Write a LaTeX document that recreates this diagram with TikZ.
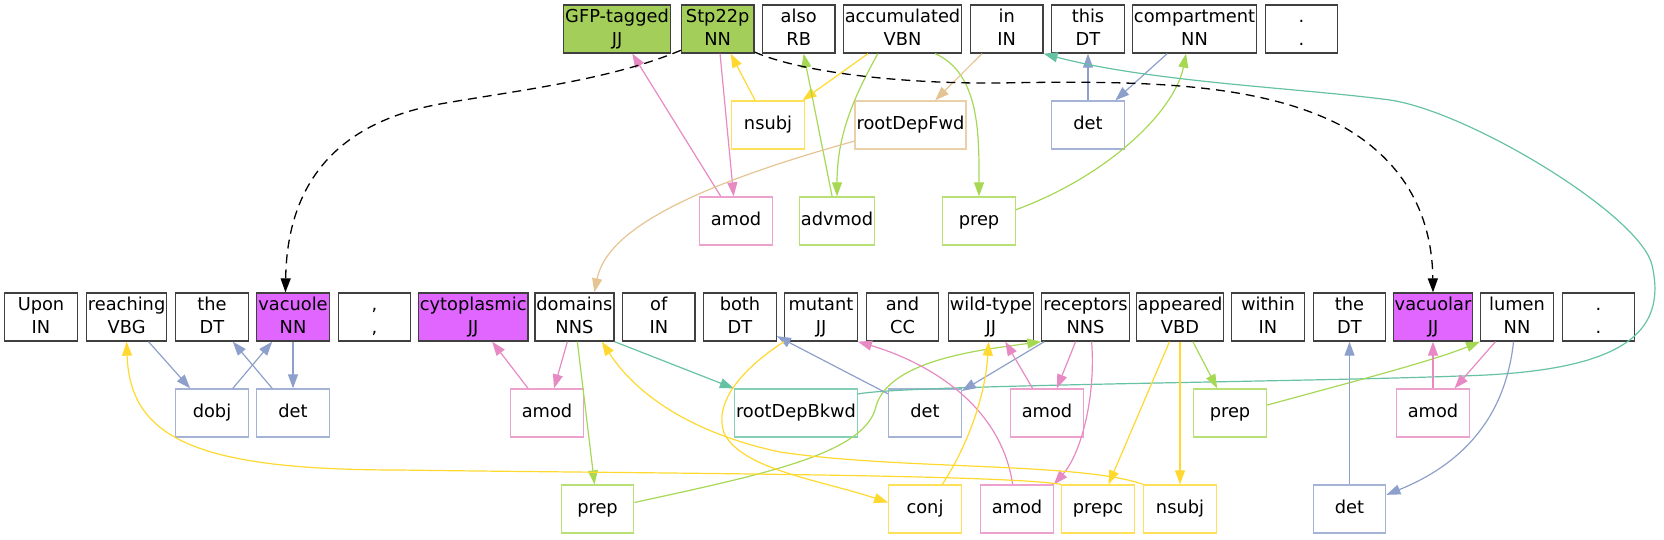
\documentclass[tikz,border=0pt]{standalone}
\usepackage{fontspec}
\setmainfont{DejaVu Sans}
\usetikzlibrary{arrows.meta}
\definecolor{cTeal}{HTML}{66C2A5}
\definecolor{cBlue}{HTML}{8DA0CB}
\definecolor{cPink}{HTML}{E78AC3}
\definecolor{cGreen}{HTML}{A6D854}
\definecolor{cYellow}{HTML}{FFD92F}
\definecolor{cTan}{HTML}{E5C494}
\definecolor{cMention}{RGB}{164,206,90}
\definecolor{cTrigger}{HTML}{E066FF}
\newcommand\tw[2]{\strut#1\\\strut#2}

\begin{document}
\begin{tikzpicture}[x=1pt,y=-1pt,
  tok/.style={draw=black!75, line width=1.3pt, minimum width=72.5pt, minimum height=48pt,
              inner xsep=1.5pt, inner ysep=0pt, align=center, font=\fontsize{17.8}{23.3}\selectfont},
  lab/.style={draw=#1!80!white, line width=1.3pt, minimum width=72.5pt, minimum height=48pt,
              inner xsep=1.5pt, font=\fontsize{17.8}{23.3}\selectfont},
  dep/.style={draw=#1, line width=1.2pt, -{Triangle[length=14pt,width=10pt]}},
  coref/.style={line width=1.3pt, dash pattern=on 9pt off 6pt, -{Triangle[length=14pt,width=10pt]}}]
\useasboundingbox (0,0) rectangle (1664,539);
% first sentence
\node[tok,fill=cMention] (A1) at (617,29)    {\tw{GFP-tagged}{JJ}};
\node[tok,fill=cMention] (A2) at (717.7,29)  {\tw{Stp22p}{NN}};
\node[tok] (A3) at (798.7,29)  {\tw{also}{RB}};
\node[tok] (A4) at (902.5,29)  {\tw{accumulated}{VBN}};
\node[tok] (A5) at (1006.7,29) {\tw{in}{IN}};
\node[tok] (A6) at (1088,29)   {\tw{this}{DT}};
\node[tok] (A7) at (1194.5,29) {\tw{compartment}{NN}};
\node[tok] (A8) at (1301.5,29) {\tw{.}{.}};
\node[lab=cYellow] (B1) at (768,125)   {\strut nsubj};
\node[lab=cTan]    (B2) at (910.5,125) {\strut rootDepFwd};
\node[lab=cBlue]   (B3) at (1088,125)  {\strut det};
\node[lab=cPink]   (B4) at (736,221)   {\strut amod};
\node[lab=cGreen]  (B5) at (837,221)   {\strut advmod};
\node[lab=cGreen]  (B6) at (979,221)   {\strut prep};
% second sentence
\node[tok] (C1) at (41,317)    {\tw{Upon}{IN}};
\node[tok] (C2) at (126.6,317) {\tw{reaching}{VBG}};
\node[tok] (C3) at (212,317)   {\tw{the}{DT}};
\node[tok,fill=cTrigger] (C4) at (293,317) {\tw{vacuole}{NN}};
\node[tok] (C5) at (374.4,317) {\tw{,}{,}};
\node[tok,fill=cTrigger] (C6) at (473.2,317) {\tw{cytoplasmic}{JJ}};
\node[tok] (C7) at (574.4,317) {\tw{domains}{NNS}};
\node[tok] (C8) at (658.8,317) {\tw{of}{IN}};
\node[tok] (C9) at (740,317)   {\tw{both}{DT}};
\node[tok] (C10) at (821,317)  {\tw{mutant}{JJ}};
\node[tok] (C11) at (902.5,317) {\tw{and}{CC}};
\node[tok] (C12) at (990.8,317) {\tw{wild-type}{JJ}};
\node[tok] (C13) at (1085.5,317) {\tw{receptors}{NNS}};
\node[tok] (C14) at (1180,317) {\tw{appeared}{VBD}};
\node[tok] (C15) at (1268,317) {\tw{within}{IN}};
\node[tok] (C16) at (1349.5,317) {\tw{the}{DT}};
\node[tok,fill=cTrigger] (C17) at (1433,317) {\tw{vacuolar}{JJ}};
\node[tok] (C18) at (1517,317) {\tw{lumen}{NN}};
\node[tok] (C19) at (1598.5,317) {\tw{.}{.}};
\node[lab=cBlue]   (D1) at (212,413)   {\strut dobj};
\node[lab=cBlue]   (D2) at (293,413)   {\strut det};
\node[lab=cPink]   (D3) at (547,413)   {\strut amod};
\node[lab=cTeal]   (D4) at (796,413)   {\strut rootDepBkwd};
\node[lab=cBlue]   (D5) at (925,413)   {\strut det};
\node[lab=cPink]   (D6) at (1047,413)  {\strut amod};
\node[lab=cGreen]  (D7) at (1230,413)  {\strut prep};
\node[lab=cPink]   (D8) at (1433,413)  {\strut amod};
\node[lab=cGreen]  (D9) at (597.5,509) {\strut prep};
\node[lab=cYellow] (D10) at (925,509)  {\strut conj};
\node[lab=cPink]   (D11) at (1017,509) {\strut amod};
\node[lab=cYellow] (D12) at (1098,509) {\strut prepc};
\node[lab=cYellow] (D13) at (1180,509) {\strut nsubj};
\node[lab=cBlue]   (D14) at (1349.5,509) {\strut det};
% dependencies, first sentence
\draw[dep=cPink] (A2) -- (B4);
\draw[dep=cPink] (B4) -- (A1);
\draw[dep=cYellow] (A4) -- (B1);
\draw[dep=cYellow] (B1) -- (A2);
\draw[dep=cGreen] (A4.-135) .. controls +(-25,45) and +(0,-60) .. (B5.north);
\draw[dep=cGreen] (B5) -- (A3);
\draw[dep=cGreen] (A4.-37) .. controls +(45,20) and +(0,-60) .. (B6.north);
\draw[dep=cGreen] (B6.17) .. controls (1110,175) and (1175,110) .. (A7.-109);
\draw[dep=cBlue] (A7) -- (B3);
\draw[dep=cBlue] (B3) -- (A6);
\draw[dep=cTan] (A5) -- (B2);
\draw[dep=cTan] (B2.-164) .. controls (660,195) and (605,240) .. (C7.51);
% across sentences
\draw[dep=cTeal] (C7.south east) -- (D4.north west);
\draw[dep=cTeal] (D4.17) .. controls (900,385) and (1300,382) .. (1460,376)
  .. controls (1620,372) and (1668,335) .. (1652,265)
  .. controls (1640,215) and (1470,112) .. (1390,100)
  .. controls (1300,88) and (1150,82) .. (A5.south east);
\draw[coref] (A2.-150) .. controls (610,80) and (520,90) .. (440,104)
  .. controls (330,124) and (287,190) .. (C4.107);
\draw[coref] (A2.-32) .. controls (800,72) and (900,84) .. (1000,83)
  .. controls (1150,80) and (1260,84) .. (1340,125)
  .. controls (1400,158) and (1432,210) .. (C17.north);
% dependencies, second sentence
\draw[dep=cBlue] (C2) -- (D1);
\draw[dep=cBlue] (D1) -- (C4);
\draw[dep=cBlue] (C4) -- (D2);
\draw[dep=cBlue] (D2) -- (C3);
\draw[dep=cPink] (C7) -- (D3);
\draw[dep=cPink] (D3) -- (C6);
\draw[dep=cGreen] (C7) -- (D9);
\draw[dep=cGreen] (D9.10) .. controls (760,475) and (860,455) .. (875,410)
  .. controls (885,360) and (980,350) .. (C13.south west);
\draw[dep=cBlue] (C13) -- (D5);
\draw[dep=cBlue] (D5) -- (C9);
\draw[dep=cPink] (C13) -- (D6);
\draw[dep=cPink] (D6) -- (C12);
\draw[dep=cPink] (C13.-76) .. controls (1096,400) and (1080,455) .. (D11.north east);
\draw[dep=cPink] (D11.100) .. controls (1000,400) and (920,360) .. (C10.south east);
\draw[dep=cYellow] (C10.south west) .. controls (740,370) and (712,405) .. (725,435)
  .. controls (745,470) and (820,480) .. (D10.170);
\draw[dep=cYellow] (D10.55) .. controls (965,450) and (985,400) .. (C12.-95);
\draw[dep=cYellow] (C14) -- (D12);
\draw[dep=cYellow] (D12.north west) .. controls (1000,474) and (600,473) .. (400,470)
  .. controls (200,470) and (130,440) .. (C2.south);
\draw[dep=cYellow] (C14) -- (D13);
\draw[dep=cYellow] (D13.north west) .. controls (1080,462) and (900,470) .. (780,452)
  .. controls (700,435) and (640,400) .. (C7.-42);
\draw[dep=cGreen] (C14) -- (D7);
\draw[dep=cGreen] (D7.12) .. controls (1340,385) and (1430,362) .. (C18.south west);
\draw[dep=cPink] (C18) -- (D8);
\draw[dep=cPink] (D8) -- (C17);
\draw[dep=cBlue] (C18.-98) .. controls (1505,420) and (1460,465) .. (D14.21);
\draw[dep=cBlue] (D14) -- (C16);
\end{tikzpicture}
\end{document}
